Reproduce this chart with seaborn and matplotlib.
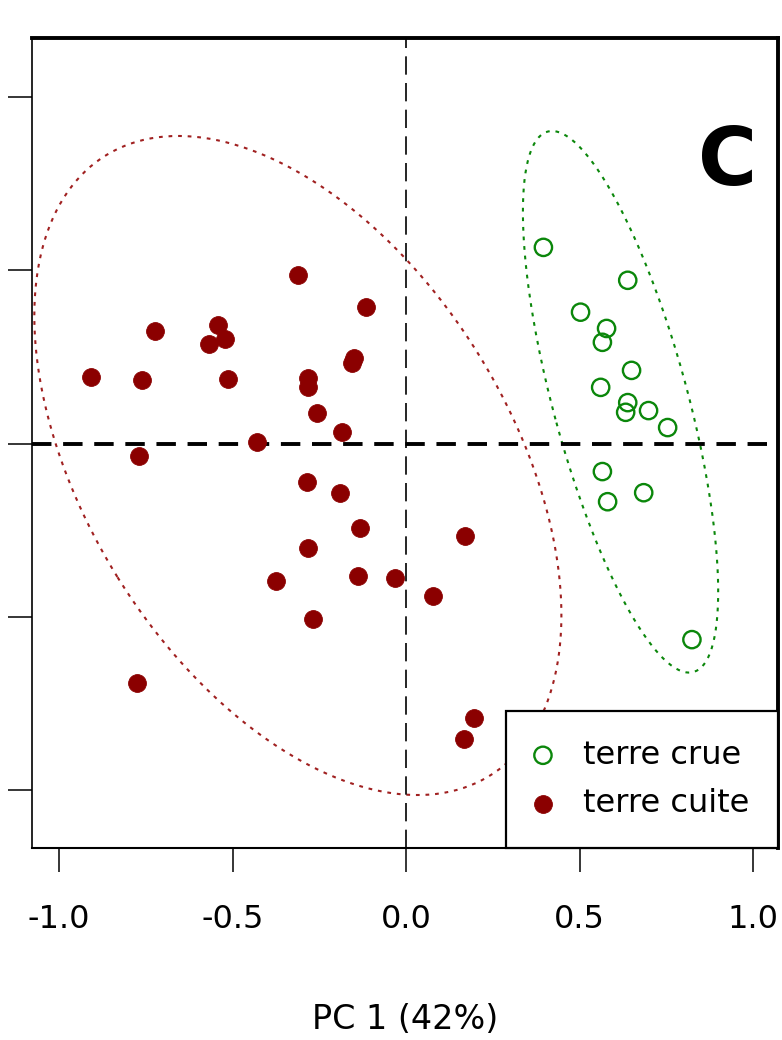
import numpy as np
import pandas as pd
import matplotlib
matplotlib.use("Agg")
import matplotlib.pyplot as plt
import seaborn as sns

# ---------------- data ----------------
group_names = ["terre crue", "terre cuite"]

crue_pc1 = [0.396, 0.639, 0.503, 0.578, 0.566, 0.650, 0.561, 0.639, 0.633,
            0.699, 0.754, 0.566, 0.581, 0.685, 0.824]
crue_pc2 = [0.566, 0.471, 0.379, 0.332, 0.292, 0.211, 0.162, 0.118, 0.090,
            0.095, 0.046, -0.081, -0.168, -0.142, -0.566]

cuite_pc1 = [-0.312, -0.116, -0.723, -0.543, -0.523, -0.569, -0.908, -0.760,
             -0.514, -0.283, -0.283, -0.150, -0.156, -0.257, -0.185, -0.428,
             -0.769, -0.286, -0.191, -0.133, -0.283, 0.171, -0.376, -0.139,
             -0.032, 0.078, -0.269, -0.775, 0.197, 0.168]
cuite_pc2 = [0.486, 0.393, 0.324, 0.341, 0.303, 0.286, 0.191, 0.182, 0.185,
             0.188, 0.162, 0.246, 0.231, 0.087, 0.032, 0.003, -0.035, -0.110,
             -0.142, -0.243, -0.303, -0.266, -0.396, -0.382, -0.387, -0.439,
             -0.506, -0.691, -0.792, -0.853]

x_ticks = [-1.0, -0.5, 0.0, 0.5, 1.0]
x_tick_labels = ["-1.0", "-0.5", "0.0", "0.5", "1.0"]
y_ticks = [-1.0, -0.5, 0.0, 0.5, 1.0]
x_label = "PC 1 (42%)"
panel_label = "C"
ellipse_level = 0.95

# ---------------- style ----------------
sns.set_style("white")
plt.rcParams['font.family'] = ['DejaVu Sans']
plt.rcParams['text.color'] = 'black'
plt.rcParams['axes.labelcolor'] = 'black'
plt.rcParams['xtick.color'] = 'black'
plt.rcParams['ytick.color'] = 'black'

green = "#0b870b"
red = "#8b0000"
red_ell = "#a02020"

W, H = 782, 1040
fig = plt.figure(figsize=(W / 100, H / 100), dpi=100)
L, R, T, B = 32, 778, 38, 848
ax = fig.add_axes([L / W, 1 - B / H, (R - L) / W, (B - T) / H])

df = pd.concat([
    pd.DataFrame({"PC1": crue_pc1, "PC2": crue_pc2, "group": group_names[0]}),
    pd.DataFrame({"PC1": cuite_pc1, "PC2": cuite_pc2, "group": group_names[1]}),
], ignore_index=True)


def ellipse_xy(x, y, level):
    """Data ellipse: radius sqrt(2 * F(level; 2, n-1))."""
    x = np.asarray(x); y = np.asarray(y)
    n = len(x)
    d2 = n - 1
    fq = (d2 / 2.0) * ((1 - level) ** (-2.0 / d2) - 1)
    k = np.sqrt(2 * fq)
    cov = np.cov(x, y)
    vals, vecs = np.linalg.eigh(cov)
    t = np.linspace(0, 2 * np.pi, 400)
    circ = np.vstack([np.cos(t), np.sin(t)])
    pts = vecs @ (np.sqrt(vals)[:, None] * circ) * k
    return pts[0] + x.mean(), pts[1] + y.mean()


# ellipses
for g, col in [(group_names[0], green), (group_names[1], red_ell)]:
    sub = df[df["group"] == g]
    ex, ey = ellipse_xy(sub["PC1"], sub["PC2"], ellipse_level)
    ax.plot(ex, ey, color=col, lw=1.5, linestyle=(0, (1.8, 2.8)), zorder=1)

# reference lines
ax.axvline(0, color="black", lw=1.2, linestyle=(0, (11, 5)), zorder=2)
ax.axhline(0, color="black", lw=2.8, linestyle=(0, (5, 3)), zorder=2)

# points
sub = df[df["group"] == group_names[0]]
sns.scatterplot(x=sub["PC1"], y=sub["PC2"], ax=ax, marker="o", s=155,
                facecolors="none", edgecolor=green, linewidth=1.7,
                label=group_names[0], zorder=3)
sub = df[df["group"] == group_names[1]]
sns.scatterplot(x=sub["PC1"], y=sub["PC2"], ax=ax, marker="o", s=165,
                color=red, edgecolor=red, linewidth=0.6,
                label=group_names[1], zorder=3)

# axes
ax.set_xlim((L - 406) / 347, (R - 406) / 347)
ax.set_ylim((443.5 - B) / 346.5, (443.5 - T) / 346.5)
ax.set_xticks(x_ticks)
ax.set_xticklabels(x_tick_labels)
ax.set_yticks(y_ticks)
ax.set_yticklabels([])
ax.tick_params(axis="both", which="major", direction="out", length=17,
               width=1.1, color="black", labelcolor="black", labelsize=23,
               pad=23, bottom=True, left=True, top=False, right=False)
ax.set_xlabel(x_label, fontsize=24, labelpad=49, color="black")
ax.set_ylabel("")

for side, lw in [("left", 1.2), ("bottom", 1.5), ("top", 2.8), ("right", 2.8)]:
    ax.spines[side].set_visible(True)
    ax.spines[side].set_color("black")
    ax.spines[side].set_linewidth(lw)

ax.text((728 - L) / (R - L), 1 - (163 - T) / (B - T), panel_label,
        transform=ax.transAxes, ha="center", va="center",
        fontsize=58, fontweight="bold", color="black")

leg = ax.legend(loc="lower right", bbox_to_anchor=(1, 0), borderaxespad=0,
                frameon=True, fancybox=False, framealpha=1, edgecolor="black",
                fontsize=23, handlelength=0.5, handletextpad=1.0,
                borderpad=0.9, labelspacing=0.55, markerscale=1.0)
leg.get_frame().set_linewidth(1.6)
for txt in leg.get_texts():
    txt.set_color("black")
leg.set_zorder(5)

fig.savefig("out.png", dpi=100)
